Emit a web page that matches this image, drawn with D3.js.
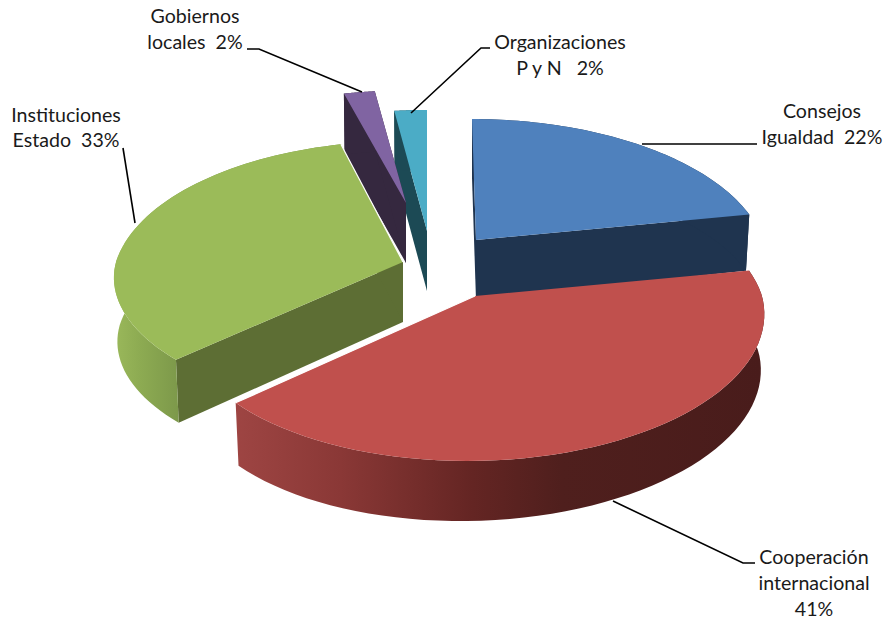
<!DOCTYPE html>
<html><head><meta charset="utf-8">
<script src="https://cdn.jsdelivr.net/npm/d3@7/dist/d3.min.js"></script>
<style>html,body{margin:0;background:#fff}svg{display:block}text{font-family:Lato,sans-serif;font-size:19.6px;fill:#1a1a1a;white-space:pre}</style>
</head><body><svg id="c" width="889" height="622"></svg>
<script>
const categories=["Consejos Igualdad","Cooperación internacional","Instituciones Estado","Gobiernos locales","Organizaciones P y N"];
const shares=[22,41,33,2,2];
const topColors=["#4f81bd","#c0504d","#9bbb59","#8064a2","#4bacc6"];
const wallColors=["#1f344f","#9c4442","#5d6e34","#35283f","#1c4a55"];
const labelLines=[["Consejos","Igualdad  22%"],["Cooperación","internacional","41%"],["Instituciones","Estado  33%"],["Gobiernos","locales  2%"],["Organizaciones","P y N   2%"]];
// placement of each exploded slice
const centersX=[476,475,403,406,427], centersY=[240,296,262,203,231];
const scaleX=[1,1,1,1,1.05], scaleY=[1,1,1,.93,1], skews=[4,0,0,0,0];
const frontSkew=[0,-8,10,0,0], frontScaleY=[1,1,.916,1,1];
const labelX=[822,814,66,195,560], labelY=[118,564,122,23,49], lineGap=[26,26,25,26,26];
const leaderX=[[642,757],[613,743,755],[135,123],[362,259,247],[411,481,490]];
const leaderY=[[144,144],[501,563,563],[223,148],[92,49,49],[113,48,48]];
const drawOrder=[4,3,2,0,1];

const svg=d3.select("#c"), defs=svg.append("defs");
const pie=d3.pie().sort(null).value(d=>d).startAngle(0).endAngle(2*Math.PI);
const arcs=pie(shares);
const RX=287,B=139.6,K=-.154;
function proj(i,a){
  const X=Math.sin(a),Y=-Math.cos(a),w=1+K*Y,f=Math.max(Y,0);
  const sy=Y>0?frontScaleY[i]:scaleY[i];
  return {x:centersX[i]+scaleX[i]*RX*X/w+skews[i]*Y+frontSkew[i]*f, y:centersY[i]+sy*B*Y/w, X};
}
function low(i,p){return [p.x-(p.x-centersX[i])*.012, p.y+60-4*p.X];}
const line=d3.line();
const arcPts=(i,a0,a1)=>d3.range(0,61).map(k=>proj(i,a0+(a1-a0)*k/60));

function grad(id,x0,x1,stops){
  const g=defs.append("linearGradient").attr("id",id).attr("gradientUnits","userSpaceOnUse")
    .attr("x1",x0).attr("x2",x1).attr("y1",0).attr("y2",0);
  stops.forEach(s=>g.append("stop").attr("offset",s[0]).attr("stop-color",s[1]));
}
grad("outer1",235,763,[[0,"#9e4543"],[.2,"#8a3836"],[.45,"#642523"],[.62,"#4f1f1d"],[1,"#491c1b"]]);
grad("outer2",113,180,[[0,"#9bb95b"],[.4,"#8dab52"],[1,"#7c984a"]]);
const outerFill=["#1f344f","url(#outer1)","url(#outer2)","#35283f","#1c4a55"];

drawOrder.forEach(i=>{
  const d=arcs[i], c={x:centersX[i],y:centersY[i],X:0};
  const g=svg.append("g");
  const rim=arcPts(i,d.startAngle,d.endAngle);
  const top=rim.map(p=>[p.x,p.y]);
  const cBot=low(i,c);
  [rim[0],rim[60]].forEach(p=>{
    g.append("path").attr("d",line([[c.x,c.y],[p.x,p.y],low(i,p),cBot])+"Z").attr("fill",i==1?"none":wallColors[i]);
  });
  g.append("path").attr("d",line(top.concat(rim.slice().reverse().map(p=>low(i,p))))+"Z").attr("fill",outerFill[i]);
  g.append("path").attr("d",line([[c.x,c.y]].concat(top))+"Z").attr("fill",topColors[i]);
  if(i==1||i==2){
    const e=rim[60];
    g.append("path").attr("d",line([[c.x,c.y],[e.x,e.y]])).attr("stroke","#fff").attr("stroke-width",1.2).attr("fill","none");
  }
});

categories.forEach((name,i)=>{
  const pts=leaderX[i].map((x,k)=>[x,leaderY[i][k]]);
  svg.append("path").attr("d",line(pts)).attr("fill","none").attr("stroke","#000").attr("stroke-width",1.6);
  const t=svg.append("text").attr("text-anchor","middle");
  labelLines[i].forEach((s,k)=>t.append("tspan").attr("x",labelX[i]).attr("y",labelY[i]+k*lineGap[i]).text(s));
});
</script></body></html>
